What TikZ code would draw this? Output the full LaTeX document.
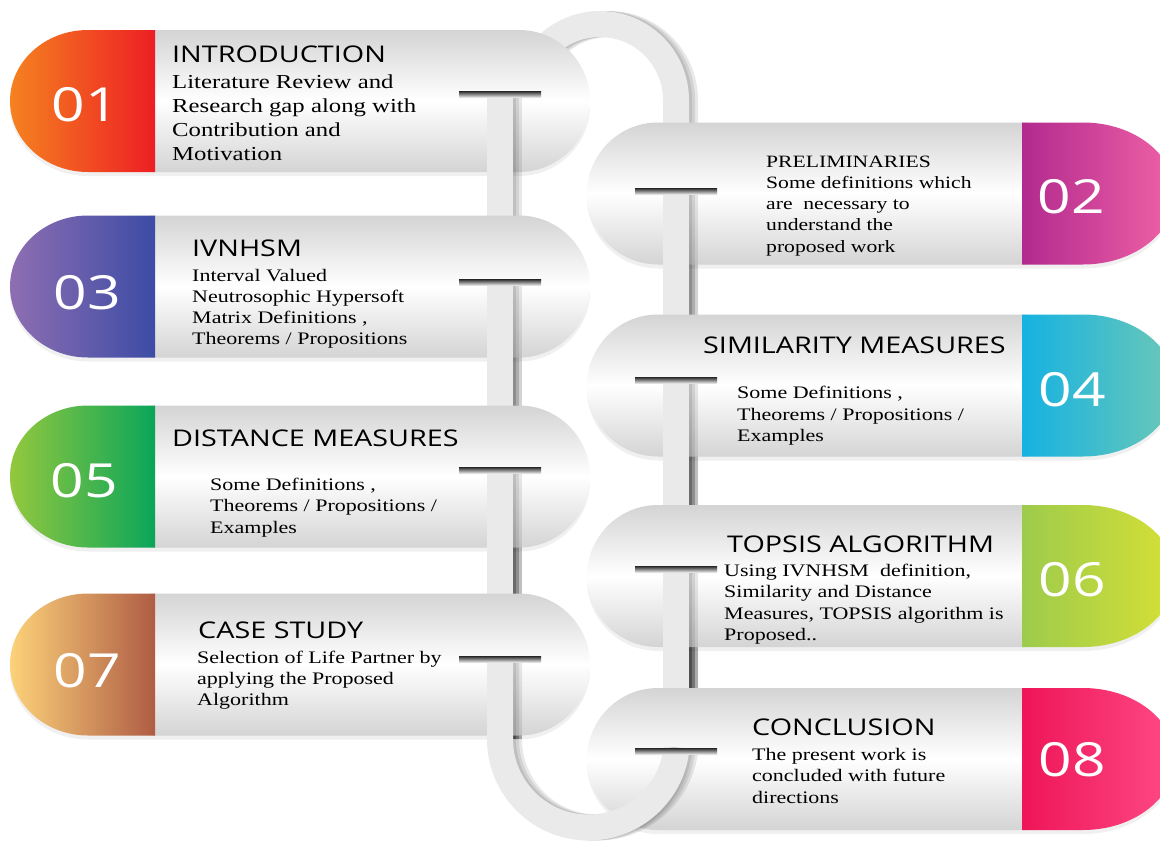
\documentclass[tikz,border=0pt]{standalone}
\usepackage{graphicx}
\usepackage{fontspec}
\setmainfont{Liberation Serif}
\newfontfamily\osans{Open Sans}
\definecolor{capgrey}{RGB}{212,212,212}
\definecolor{pipegrey}{RGB}{234,234,234}
\definecolor{cAa}{RGB}{245,130,32}\definecolor{cAb}{RGB}{237,30,36}
\definecolor{cBa}{RGB}{178,42,142}\definecolor{cBb}{RGB}{240,98,166}
\definecolor{cCa}{RGB}{142,110,178}\definecolor{cCb}{RGB}{60,76,165}
\definecolor{cDa}{RGB}{22,178,226}\definecolor{cDb}{RGB}{108,200,182}
\definecolor{cEa}{RGB}{147,200,62}\definecolor{cEb}{RGB}{10,165,90}
\definecolor{cFa}{RGB}{157,203,76}\definecolor{cFb}{RGB}{214,224,53}
\definecolor{cGa}{RGB}{252,210,122}\definecolor{cGb}{RGB}{175,92,68}
\definecolor{cHa}{RGB}{238,21,88}\definecolor{cHb}{RGB}{255,74,134}
\newcommand\hs[1]{\scalebox{1.25}[1]{#1}}
\newcommand\lines[1]{\hs{\begin{tabular}[t]{@{}l@{}}#1\end{tabular}}}
\tikzset{
  pipeline/.style={line width=26pt, draw=pipegrey},
  pipeshade/.style={line width=26pt, draw=black, opacity=0.09},
  capshadow/.style={fill=black, opacity=0.06},
  tbar/.style={top color=black!85, bottom color=gray!25},
  numtext/.style={font=\osans\fontsize{47}{50}\selectfont, text=white, inner sep=0},
  tittext/.style={font=\osans\fontsize{23}{26}\selectfont, inner sep=0, anchor=base west},
  bodytext/.style={font=\fontsize{17.6}{21.3}\selectfont, inner sep=0, anchor=base west},
}
\newcommand\pipe[1]{\draw[pipeshade, xshift=3pt] #1; \draw[pipeshade, xshift=6pt] #1;
  \draw[pipeshade, xshift=9pt] #1; \draw[pipeline] #1;}
\newcommand\tb[2]{\shade[tbar] (#1-41,#2) rectangle (#1+41,#2+6);}
% left capsule: y centre, colour a, colour b
\newcommand\leftcap[3]{%
  \fill[capshadow] (88,#1-67) -- (519,#1-67) arc[start angle=90, end angle=-90, radius=71pt]
    -- (88,#1+75) arc[start angle=270, end angle=90, x radius=78pt, y radius=71pt] -- cycle;
  \shade[top color=capgrey, bottom color=capgrey, middle color=white]
    (150,#1-71) -- (519,#1-71) arc[start angle=90, end angle=-90, radius=71pt] -- (150,#1+71) -- cycle;
  \shade[left color=#2, right color=#3]
    (155,#1-71) -- (88,#1-71) arc[start angle=90, end angle=270, x radius=78pt, y radius=71pt] -- (155,#1+71) -- cycle;}
\newcommand\rightcap[3]{%
  \fill[capshadow] (1083,#1-67) -- (658,#1-67) arc[start angle=90, end angle=270, radius=71pt]
    -- (1083,#1+75) arc[start angle=-90, end angle=90, x radius=92pt, y radius=71pt] -- cycle;
  \shade[top color=capgrey, bottom color=capgrey, middle color=white]
    (1027,#1-71) -- (658,#1-71) arc[start angle=90, end angle=270, radius=71pt] -- (1027,#1+71) -- cycle;
  \shade[left color=#2, right color=#3]
    (1022,#1-71) -- (1083,#1-71) arc[start angle=90, end angle=-90, x radius=92pt, y radius=71pt] -- (1022,#1+71) -- cycle;}
\begin{document}
\begin{tikzpicture}[x=1pt,y=-1pt]
\useasboundingbox (0,0) rectangle (1160,846);
\fill[white] (0,0) rectangle (1160,846);
\clip (0,0) rectangle (1160,846);
% back pipe: top arc and right pipe
\pipe{(524,150) -- (524,100) arc[start angle=180, end angle=0, radius=76pt] -- (676,739)}
% row 1
\leftcap{101}{cAa}{cAb}
\rightcap{193.5}{cBa}{cBb}
\pipe{(500,94) -- (500,739)}
\pipe{(676,191) -- (676,739)}
\tb{500}{91}\tb{676}{188}
% row 2
\leftcap{286.5}{cCa}{cCb}
\rightcap{385.5}{cDa}{cDb}
\pipe{(500,282) -- (500,739)}
\pipe{(676,380) -- (676,739)}
\tb{500}{279}\tb{676}{377}
% row 3
\leftcap{476.5}{cEa}{cEb}
\rightcap{576}{cFa}{cFb}
\pipe{(500,470) -- (500,739)}
\pipe{(676,569) -- (676,739)}
\tb{500}{467}\tb{676}{566}
% row 4
\leftcap{664.5}{cGa}{cGb}
\rightcap{759}{cHa}{cHb}
\pipe{(500,659) -- (500,739) arc[start angle=180, end angle=354, radius=88.5pt]}
\tb{500}{656}\tb{676}{748}
% numbers
\node[numtext] (n1) at (85,104.5) {\hs{01}};
\node[numtext] (n2) at (1071,197) {\hs{02}};
\node[numtext] (n3) at (87,292.5) {\hs{03}};
\node[numtext] (n4) at (1072,390) {\hs{04}};
\node[numtext] (n5) at (84,481) {\hs{05}};
\node[numtext] (n6) at (1072,579.5) {\hs{06}};
\node[numtext] (n7) at (87.5,670.5) {\hs{07}};
\node[numtext] (n8) at (1072,759.5) {\hs{08}};
% titles
\node[tittext] (t1) at (172,62) {\hs{INTRODUCTION}};
\node[tittext] (t3) at (192,256) {\hs{IVNHSM}};
\node[tittext] (t4) at (703,353) {\hs{SIMILARITY MEASURES}};
\node[tittext] (t5) at (172,446) {\hs{DISTANCE MEASURES}};
\node[tittext] (t6) at (727,552) {\hs{TOPSIS ALGORITHM}};
\node[tittext] (t7) at (198,638) {\hs{CASE STUDY}};
\node[tittext] (t8) at (752,735) {\hs{CONCLUSION}};
% bodies
\node[bodytext, font=\fontsize{19.8}{24.3}\selectfont] (b1) at (172,88)
  {\lines{Literature Review and\\Research gap along with\\Contribution and\\Motivation}};
\node[bodytext, font=\fontsize{17.3}{21.3}\selectfont] (b2) at (766,167)
  {\lines{PRELIMINARIES\\Some definitions which\\are\ \ necessary to\\understand the\\proposed work}};
\node[bodytext, font=\fontsize{17.6}{21}\selectfont] (b3) at (192,281)
  {\lines{Interval Valued\\Neutrosophic Hypersoft\\Matrix Definitions ,\\Theorems / Propositions}};
\node[bodytext, font=\fontsize{17.6}{21.5}\selectfont] (b4) at (737,398.5)
  {\lines{Some Definitions ,\\Theorems / Propositions /\\Examples}};
\node[bodytext, font=\fontsize{17.6}{21.8}\selectfont] (b5) at (210,490)
  {\lines{Some Definitions ,\\Theorems / Propositions /\\Examples}};
\node[bodytext] (b6) at (724,576.5)
  {\lines{Using IVNHSM\ \ definition,\\Similarity and Distance\\Measures, TOPSIS algorithm is\\Proposed..}};
\node[bodytext, font=\fontsize{17.6}{21}\selectfont] (b7) at (197,663)
  {\lines{Selection of Life Partner by\\applying the Proposed\\Algorithm}};
\node[bodytext, font=\fontsize{17.6}{21.5}\selectfont] (b8) at (752,760)
  {\lines{The present work is\\concluded with future\\directions}};
\end{tikzpicture}
\end{document}
